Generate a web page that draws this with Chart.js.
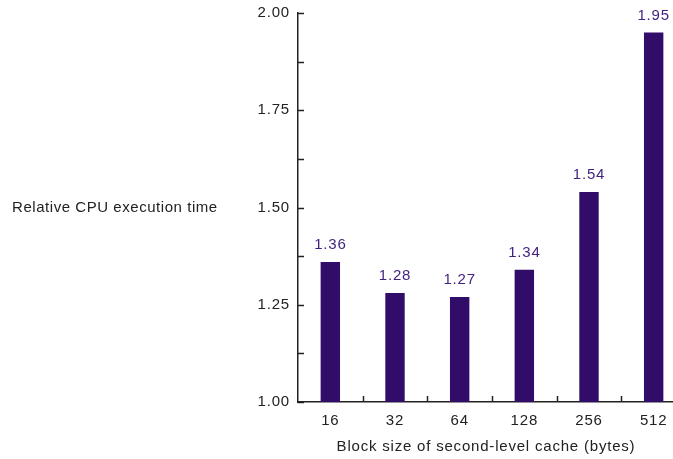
<!DOCTYPE html>
<html>
<head>
<meta charset="utf-8">
<script src="https://cdn.jsdelivr.net/npm/chart.js@4.4.1/dist/chart.umd.min.js"></script>
<style>
  html, body { margin: 0; padding: 0; background: #fff; overflow: hidden; }
  #wrap { position: relative; width: 686px; height: 459px; }
</style>
</head>
<body>
<div id="wrap"><canvas id="chart"></canvas></div>
<script>
// Block sizes of the second-level cache and the relative CPU time for each
const categories = ['16', '32', '64', '128', '256', '512'];
const relativeTime = [1.36, 1.28, 1.27, 1.34, 1.54, 1.95];

// Value axis range and tick spacing
const yMin = 1.0;
const yMax = 2.0;
const yMajorStep = 0.25;
const yMinorStep = 0.125;

const xTitle = 'Block size of second-level cache (bytes)';
const yTitle = 'Relative CPU execution time';

const BAR_COLOR = '#310d69';
const LABEL_COLOR = '#3f1f80';
const INK = '#222222';
const SPACING = '0.8px';
const FONT_FAMILY = "'Liberation Sans', Arial, Helvetica, sans-serif";

Chart.defaults.font.family = FONT_FAMILY;
Chart.defaults.font.size = 15;
Chart.defaults.color = INK;

// Helvetica-style lettering with a little extra tracking
const tracking = {
  id: 'tracking',
  beforeLayout(chart) { chart.ctx.letterSpacing = SPACING; },
  beforeDraw(chart) { chart.ctx.letterSpacing = SPACING; }
};

// Inward tick marks on both axes
const axisMarks = {
  id: 'axisMarks',
  afterDraw(chart) {
    const { ctx, scales: { x, y }, chartArea } = chart;
    ctx.save();
    ctx.strokeStyle = INK;
    ctx.lineWidth = 1.5;
    ctx.beginPath();
    y.ticks.forEach(t => {
      const py = Math.round(y.getPixelForValue(t.value)) + 0.5;
      ctx.moveTo(chartArea.left, py);
      ctx.lineTo(chartArea.left + 6, py);
    });
    for (let i = 0; i < categories.length - 1; i++) {
      const px = Math.round((x.getPixelForValue(i) + x.getPixelForValue(i + 1)) / 2) + 0.5;
      ctx.moveTo(px, chartArea.bottom);
      ctx.lineTo(px, chartArea.bottom - 6);
    }
    ctx.stroke();
    ctx.restore();
  }
};

// Value printed above each bar
const barValues = {
  id: 'barValues',
  afterDatasetsDraw(chart) {
    const { ctx } = chart;
    const meta = chart.getDatasetMeta(0);
    ctx.save();
    ctx.letterSpacing = SPACING;
    ctx.font = '15px ' + FONT_FAMILY;
    ctx.fillStyle = LABEL_COLOR;
    ctx.textAlign = 'center';
    ctx.textBaseline = 'middle';
    meta.data.forEach((bar, i) => {
      ctx.fillText(relativeTime[i].toFixed(2), bar.x, bar.y - 17);
    });
    ctx.restore();
  }
};

// Axis captions: the value caption sits horizontally at the far left
const captions = {
  id: 'captions',
  afterDraw(chart) {
    const { ctx, chartArea } = chart;
    ctx.save();
    ctx.font = '15px ' + FONT_FAMILY;
    ctx.fillStyle = INK;
    ctx.textBaseline = 'middle';
    ctx.letterSpacing = '0.55px';
    ctx.textAlign = 'left';
    ctx.fillText(yTitle, 12, (chartArea.top + chartArea.bottom) / 2);
    ctx.letterSpacing = SPACING;
    ctx.textAlign = 'center';
    ctx.fillText(xTitle, (chartArea.left + chartArea.right) / 2 - 6, chartArea.bottom + 45);
    ctx.restore();
  }
};

new Chart(document.getElementById('chart'), {
  type: 'bar',
  data: {
    labels: categories,
    datasets: [{
      data: relativeTime,
      backgroundColor: BAR_COLOR,
      borderWidth: 0,
      barPercentage: 0.3,
      categoryPercentage: 1.0
    }]
  },
  options: {
    responsive: true,
    maintainAspectRatio: false,
    animation: false,
    layout: { padding: { top: 13, left: 0, right: 0, bottom: 0 } },
    plugins: {
      legend: { display: false },
      tooltip: { enabled: false }
    },
    scales: {
      x: {
        grid: { display: false, drawTicks: false },
        border: { display: true, color: INK, width: 1.5 },
        ticks: { padding: 10, color: INK, font: { size: 15 } },
        afterFit(scale) { scale.height = 57; }
      },
      y: {
        min: yMin,
        max: yMax,
        grid: { display: false, drawTicks: false },
        border: { display: true, color: INK, width: 1.5 },
        ticks: {
          stepSize: yMinorStep,
          padding: 8,
          color: INK,
          font: { size: 15 },
          callback(value) {
            const k = (value - yMin) / yMajorStep;
            return Math.abs(k - Math.round(k)) < 1e-6 ? value.toFixed(2) : '';
          }
        },
        afterFit(scale) {
          scale.width = 298;
          scale.paddingTop = 0;
          scale.paddingBottom = 0;
        }
      }
    }
  },
  plugins: [tracking, axisMarks, barValues, captions]
});
</script>
</body>
</html>
